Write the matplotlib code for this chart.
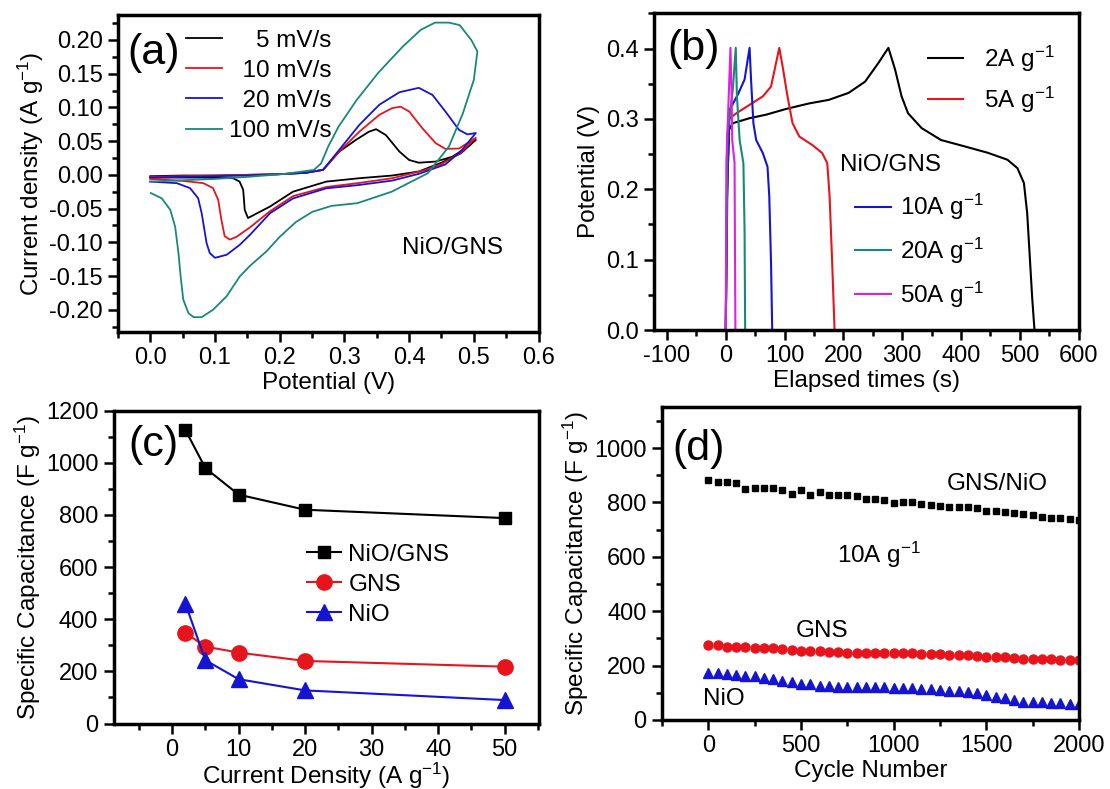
import matplotlib
matplotlib.use('Agg')
import matplotlib.pyplot as plt
from matplotlib.ticker import MultipleLocator, FormatStrFormatter

plt.rcParams['font.family'] = ['Liberation Sans', 'DejaVu Sans']
plt.rcParams['mathtext.fontset'] = 'custom'
plt.rcParams['mathtext.rm'] = 'Liberation Sans'
plt.rcParams['mathtext.it'] = 'Liberation Sans:italic'
plt.rcParams['mathtext.default'] = 'regular'
plt.rcParams['axes.unicode_minus'] = False

FS = 17.5
TS = 17
BLACK, RED, BLUE, TEAL, MAGENTA = 'black', '#e8141c', '#1414d2', '#18887a', '#e020e0'

# ---- (a) CV curves, NiO/GNS ----
cv_labels = ['    5 mV/s', '  10 mV/s', '  20 mV/s', '100 mV/s']

cv5_x = [0.0, 0.05, 0.10, 0.15, 0.20, 0.24, 0.267, 0.292, 0.318, 0.338, 0.349, 0.364, 0.385, 0.40, 0.415,
         0.441, 0.467, 0.487, 0.503, 0.48, 0.45, 0.415, 0.374, 0.323, 0.272, 0.2205, 0.185, 0.151, 0.146,
         0.1436, 0.138, 0.128, 0.08, 0.0]
cv5_y = [-0.002, -0.001, -0.001, 0.0, 0.001, 0.003, 0.0074, 0.0345, 0.052, 0.064, 0.0677, 0.059, 0.0345, 0.022,
         0.018, 0.0197, 0.027, 0.0395, 0.052, 0.032, 0.018, 0.005, -0.001, -0.005, -0.01, -0.025, -0.047, -0.064,
         -0.052, -0.022, -0.01, -0.005, -0.004, -0.004]

cv10_x = [0.0, 0.05, 0.10, 0.15, 0.20, 0.24, 0.267, 0.292, 0.323, 0.354, 0.374, 0.387, 0.40, 0.4205, 0.441,
          0.456, 0.477, 0.503, 0.48, 0.45, 0.426, 0.374, 0.323, 0.272, 0.2205, 0.185, 0.154, 0.133, 0.123,
          0.115, 0.110, 0.105, 0.097, 0.082, 0.051, 0.0]
cv10_y = [-0.003, -0.002, -0.001, 0.0, 0.001, 0.003, 0.0074, 0.0345, 0.064, 0.089, 0.099, 0.101, 0.094, 0.069,
          0.047, 0.0385, 0.039, 0.055, 0.033, 0.016, 0.0074, -0.005, -0.012, -0.018, -0.0316, -0.054, -0.078,
          -0.092, -0.096, -0.091, -0.067, -0.037, -0.0197, -0.0123, -0.009, -0.006]

cv20_x = [0.0, 0.05, 0.10, 0.15, 0.20, 0.24, 0.267, 0.292, 0.323, 0.354, 0.385, 0.415, 0.436, 0.456, 0.477,
          0.49, 0.503, 0.48, 0.456, 0.415, 0.374, 0.323, 0.272, 0.2205, 0.185, 0.154, 0.138, 0.118, 0.1,
          0.092, 0.087, 0.0795, 0.074, 0.0615, 0.041, 0.0]
cv20_y = [-0.004, -0.003, -0.002, -0.001, 0.001, 0.003, 0.0074, 0.037, 0.074, 0.104, 0.1225, 0.129, 0.1185,
          0.094, 0.0667, 0.060, 0.062, 0.035, 0.0155, 0.0015, -0.0085, -0.015, -0.02, -0.035, -0.057, -0.089,
          -0.104, -0.1185, -0.123, -0.116, -0.101, -0.057, -0.0346, -0.0197, -0.0123, -0.01]

cv100_x = [0.0, 0.05, 0.10, 0.15, 0.209, 0.253, 0.264, 0.275, 0.291, 0.319, 0.352, 0.39, 0.418, 0.44, 0.4615,
           0.478, 0.496, 0.5055, 0.5, 0.483, 0.4615, 0.429, 0.373, 0.32, 0.28, 0.25, 0.225, 0.2, 0.18, 0.154,
           0.138, 0.118, 0.097, 0.0795, 0.067, 0.059, 0.051, 0.047, 0.0436, 0.0385, 0.031, 0.018, 0.001]
cv100_y = [-0.01, -0.008, -0.006, -0.003, 0.0015, 0.0074, 0.017, 0.042, 0.0716, 0.111, 0.151, 0.19, 0.215,
           0.2257, 0.2257, 0.222, 0.2, 0.183, 0.141, 0.091, 0.042, 0.0025, -0.025, -0.042, -0.046, -0.055,
           -0.07, -0.092, -0.113, -0.135, -0.151, -0.18, -0.2, -0.211, -0.211, -0.205, -0.185, -0.151, -0.116,
           -0.077, -0.052, -0.035, -0.027]

# ---- (b) charge/discharge, NiO/GNS ----
gcd_labels = ['2A g$^{-1}$', '5A g$^{-1}$', '10A g$^{-1}$', '20A g$^{-1}$', '50A g$^{-1}$']
gcd2_t = [0, 1, 2, 5.6, 12.3, 40.5, 68.6, 102, 141.7, 175, 209, 237, 260, 276.6, 288, 299, 310, 333, 366, 406,
          445, 479, 496, 507, 512.6, 517, 521, 525]
gcd2_v = [0.0, 0.1, 0.185, 0.285, 0.294, 0.301, 0.306, 0.314, 0.322, 0.327, 0.337, 0.353, 0.38, 0.401, 0.370,
          0.332, 0.308, 0.287, 0.270, 0.261, 0.252, 0.242, 0.230, 0.209, 0.166, 0.104, 0.047, 0.0]
gcd5_t = [0, 2, 4, 18, 40.5, 63, 77, 91, 96.6, 105, 113.5, 125, 147, 164, 172.6, 176.6, 181, 185]
gcd5_v = [0.0, 0.2, 0.299, 0.308, 0.320, 0.332, 0.346, 0.401, 0.375, 0.332, 0.294, 0.275, 0.263, 0.2515, 0.237,
          0.19, 0.095, 0.0]
gcd10_t = [0, 3, 6.7, 20.8, 32, 40.5, 43, 47, 51.7, 63, 71, 74, 77, 79]
gcd10_v = [0.0, 0.22, 0.313, 0.335, 0.356, 0.401, 0.356, 0.294, 0.270, 0.2515, 0.232, 0.19, 0.095, 0.0]
gcd20_t = [0, 3, 12, 17, 19, 23.6, 30, 32, 33]
gcd20_v = [0.0, 0.28, 0.342, 0.401, 0.332, 0.270, 0.237, 0.142, 0.0]
gcd50_t = [0, 1, 4, 8, 10, 11, 15, 15.5, 16.4]
gcd50_v = [0.0, 0.237, 0.308, 0.401, 0.332, 0.27, 0.237, 0.142, 0.0]

# ---- (c) rate capability ----
current_density = [2, 5, 10, 20, 50]
cap_nio_gns = [1126, 980, 878, 820, 788]
cap_gns = [348, 295, 272, 240, 218]
cap_nio = [460, 243, 170, 127, 90]

# ---- (d) cycling at 10 A/g ----
cycles = list(range(0, 2001, 50))
cyc_nio_gns = [881, 876, 874, 871, 849, 853, 853, 852, 847, 832, 844, 827, 837, 829, 828, 826, 822, 814, 814,
               810, 798, 800, 800, 795, 790, 788, 785, 785, 785, 778, 769, 769, 764, 761, 758, 755, 746, 742,
               742, 740, 735]
cyc_gns = [274, 274, 270, 269, 267, 265, 264, 263, 261, 258, 255, 255, 252, 251, 249, 248, 248, 248, 245, 245,
           245, 245, 245, 243, 242, 242, 240, 239, 238, 236, 233, 233, 231, 228, 226, 226, 223, 223, 222, 221,
           221]
cyc_nio = [174, 172, 168, 164, 162, 160, 156, 152, 145, 139, 133, 131, 125, 125, 123, 123, 120, 120, 120, 120,
           119, 119, 117, 115, 113, 110, 108, 108, 104, 98, 91, 86, 80, 74, 67, 67, 65, 61, 61, 59, 58]


def style(ax, xmaj, xmin, ymaj, ymin):
    for s in ax.spines.values():
        s.set_linewidth(2.5)
    ax.xaxis.set_major_locator(MultipleLocator(xmaj))
    ax.xaxis.set_minor_locator(MultipleLocator(xmin))
    ax.yaxis.set_major_locator(MultipleLocator(ymaj))
    ax.yaxis.set_minor_locator(MultipleLocator(ymin))
    ax.tick_params(which='both', direction='out', width=1.8, labelsize=TS,
                   top=False, right=False, pad=4)
    ax.tick_params(which='major', length=7)
    ax.tick_params(which='minor', length=4)


fig = plt.figure(figsize=(11.1, 7.89), dpi=100)

# (a)
ax = fig.add_axes([0.1062, 0.5792, 0.3790, 0.4018])
for xs, ys, c, lab in zip([cv5_x, cv10_x, cv20_x, cv100_x], [cv5_y, cv10_y, cv20_y, cv100_y],
                          [BLACK, RED, BLUE, TEAL], cv_labels):
    ax.plot(xs, ys, color=c, lw=1.3, label=lab)
ax.set_xlim(-0.05, 0.6)
ax.set_ylim(-0.233, 0.237)
style(ax, 0.1, 0.05, 0.05, 0.025)
ax.xaxis.set_major_formatter(FormatStrFormatter('%.1f'))
ax.yaxis.set_major_formatter(FormatStrFormatter('%.2f'))
ax.set_xlabel('Potential (V)', fontsize=FS, labelpad=2)
ax.set_ylabel('Current density (A g$^{-1}$)', fontsize=FS, labelpad=2)
ax.legend(loc='upper left', bbox_to_anchor=(0.162, 0.953), frameon=False, fontsize=FS,
          handlelength=1.5, handletextpad=0.25, labelspacing=0.33, borderpad=0, borderaxespad=0)
ax.text(-0.035, 0.165, '(a)', fontsize=31, va='baseline')
ax.text(0.389, -0.117, 'NiO/GNS', fontsize=FS, va='baseline')

# (b)
ax = fig.add_axes([0.5892, 0.5817, 0.3825, 0.4014])
hs = []
for ts, vs, c, lab in zip([gcd2_t, gcd5_t, gcd10_t, gcd20_t, gcd50_t],
                          [gcd2_v, gcd5_v, gcd10_v, gcd20_v, gcd50_v],
                          [BLACK, RED, BLUE, TEAL, MAGENTA], gcd_labels):
    hs += ax.plot(ts, vs, color=c, lw=1.5, label=lab)
ax.set_xlim(-122, 600)
ax.set_ylim(0, 0.45)
style(ax, 100, 50, 0.1, 0.05)
ax.yaxis.set_major_formatter(FormatStrFormatter('%.1f'))
ax.set_xlabel('Elapsed times (s)', fontsize=FS, labelpad=2)
ax.set_ylabel('Potential (V)', fontsize=FS, labelpad=4)
leg1 = ax.legend(handles=hs[:2], loc='upper left', bbox_to_anchor=(0.645, 0.905), frameon=False,
                 fontsize=FS, handlelength=1.45, handletextpad=0.85, labelspacing=0.45,
                 borderpad=0, borderaxespad=0)
ax.add_artist(leg1)
ax.legend(handles=hs[2:], loc='upper left', bbox_to_anchor=(0.473, 0.435), frameon=False,
          fontsize=FS, handlelength=1.5, handletextpad=0.34, labelspacing=0.55,
          borderpad=0, borderaxespad=0)
ax.text(-99.5, 0.384, '(b)', fontsize=31, va='baseline')
ax.text(195, 0.226, 'NiO/GNS', fontsize=FS, va='baseline')

# (c)
ax = fig.add_axes([0.1023, 0.0830, 0.3829, 0.3965])
ax.plot(current_density, cap_nio_gns, color=BLACK, lw=1.5, marker='s', ms=9, label='NiO/GNS')
ax.plot(current_density, cap_gns, color=RED, lw=1.5, marker='o', ms=11, label='GNS')
ax.plot(current_density, cap_nio, color=BLUE, lw=1.5, marker='^', ms=11, label='NiO')
ax.set_xlim(-8.8, 55.1)
ax.set_ylim(0, 1200)
style(ax, 10, 5, 200, 100)
ax.set_xlabel('Current Density (A g$^{-1}$)', fontsize=FS, labelpad=0)
ax.set_ylabel('Specific Capacitance (F g$^{-1}$)', fontsize=FS, labelpad=2)
ax.legend(loc='upper left', bbox_to_anchor=(0.455, 0.575), frameon=False, fontsize=FS, numpoints=1,
          handlelength=1.4, handletextpad=0.3, labelspacing=0.33, borderpad=0, borderaxespad=0)
ax.text(-6.6, 1025, '(c)', fontsize=31, va='baseline')

# (d)
ax = fig.add_axes([0.5964, 0.0875, 0.3757, 0.3963])
ax.plot(cycles, cyc_nio_gns, ls='none', color=BLACK, marker='s', ms=5)
ax.plot(cycles, cyc_gns, ls='none', color=RED, marker='o', ms=6.5)
ax.plot(cycles, cyc_nio, ls='none', color=BLUE, marker='^', ms=7)
ax.set_xlim(-250, 2000)
ax.set_ylim(0, 1150)
style(ax, 500, 250, 200, 100)
ax.set_xlabel('Cycle Number', fontsize=FS, labelpad=2)
ax.set_ylabel('Specific Capacitance (F g$^{-1}$)', fontsize=FS, labelpad=2)
ax.text(-195, 957, '(d)', fontsize=31, va='baseline')
ax.text(1831, 844, 'GNS/NiO', fontsize=FS, va='baseline', ha='right')
ax.text(695, 578, '10A g$^{-1}$', fontsize=FS, va='baseline')
ax.text(474, 305, 'GNS', fontsize=FS, va='baseline')
ax.text(-27, 55, 'NiO', fontsize=FS, va='baseline')

fig.savefig('out.png', dpi=100)
